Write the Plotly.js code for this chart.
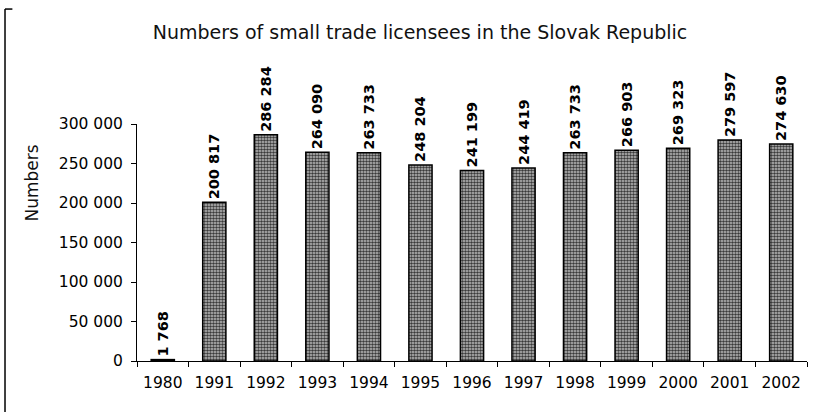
<!DOCTYPE html>
<html><head><meta charset="utf-8">
<script src="https://cdn.plot.ly/plotly-3.0.1.min.js"></script>
<style>html,body{margin:0;padding:0;background:#fff}</style>
</head><body>
<div id="chart" style="width:813px;height:412px"></div>
<script>
var years = ['1980','1991','1992','1993','1994','1995','1996','1997','1998','1999','2000','2001','2002'];
var licensees = [1768,200817,286284,264090,263733,248204,241199,244419,263733,266903,269323,279597,274630];
var yTicks = [0,50000,100000,150000,200000,250000,300000];

var FONT = 'DejaVu Sans, Liberation Sans, Arial, sans-serif';
var trace = {
  type:'bar', x: years, y: licensees,
  width: 0.45,
  marker:{color:'#8a8a8a', line:{color:'#000', width:1.5},
    pattern:{shape:'.', size:3, solidity:0.55, fgcolor:'#3a3a3a', bgcolor:'#c0c0c0', fillmode:'replace'}},
  texttemplate:'<b>%{y:,d}</b>', textposition:'outside', textangle:-90,
  textfont:{family:FONT, size:14.5, color:'#000'},
  constraintext:'none', cliponaxis:false, hoverinfo:'none'
};
var layout = {
  width:813, height:412,
  margin:{l:137, r:6, t:124, b:51},
  paper_bgcolor:'#fff', plot_bgcolor:'#fff',
  separators:'. ',
  font:{family:FONT, color:'#000'},
  title:{text:'Numbers of small trade licensees in the Slovak Republic', font:{size:19, color:'#111'},
    x:0.5166, xanchor:'center', xref:'container', y:0.922, yanchor:'middle', yref:'container'},
  xaxis:{type:'category', showline:true, linecolor:'#000', linewidth:1, ticks:'outside', ticklen:5, tickcolor:'#000',
    tickson:'boundaries', tickfont:{size:15.5}, ticklabelstandoff:7, showgrid:false, zeroline:false},
  yaxis:{range:[0,300000], tickvals:yTicks, tickformat:',d', showline:true, linecolor:'#000', linewidth:1,
    ticks:'outside', ticklen:5, tickcolor:'#000', tickfont:{size:15.5}, ticklabelstandoff:5, showgrid:false, zeroline:false},
  annotations:[{text:'Numbers', xref:'paper', yref:'paper', x:-0.1567, y:0.749, xanchor:'center', yanchor:'middle',
    textangle:-90, showarrow:false, font:{size:17, color:'#111'}}],
  showlegend:false,
  shapes:[
    {type:'line', xref:'paper', yref:'paper', x0:-0.197, x1:-0.197, y0:1.485, y1:-0.25, line:{color:'#000', width:1.5}},
    {type:'line', xref:'paper', yref:'paper', x0:-0.197, x1:-0.186, y0:1.485, y1:1.485, line:{color:'#000', width:1.5}}
  ]
};
Plotly.newPlot('chart',[trace],layout,{displayModeBar:false, staticPlot:true});
</script>
</body></html>
